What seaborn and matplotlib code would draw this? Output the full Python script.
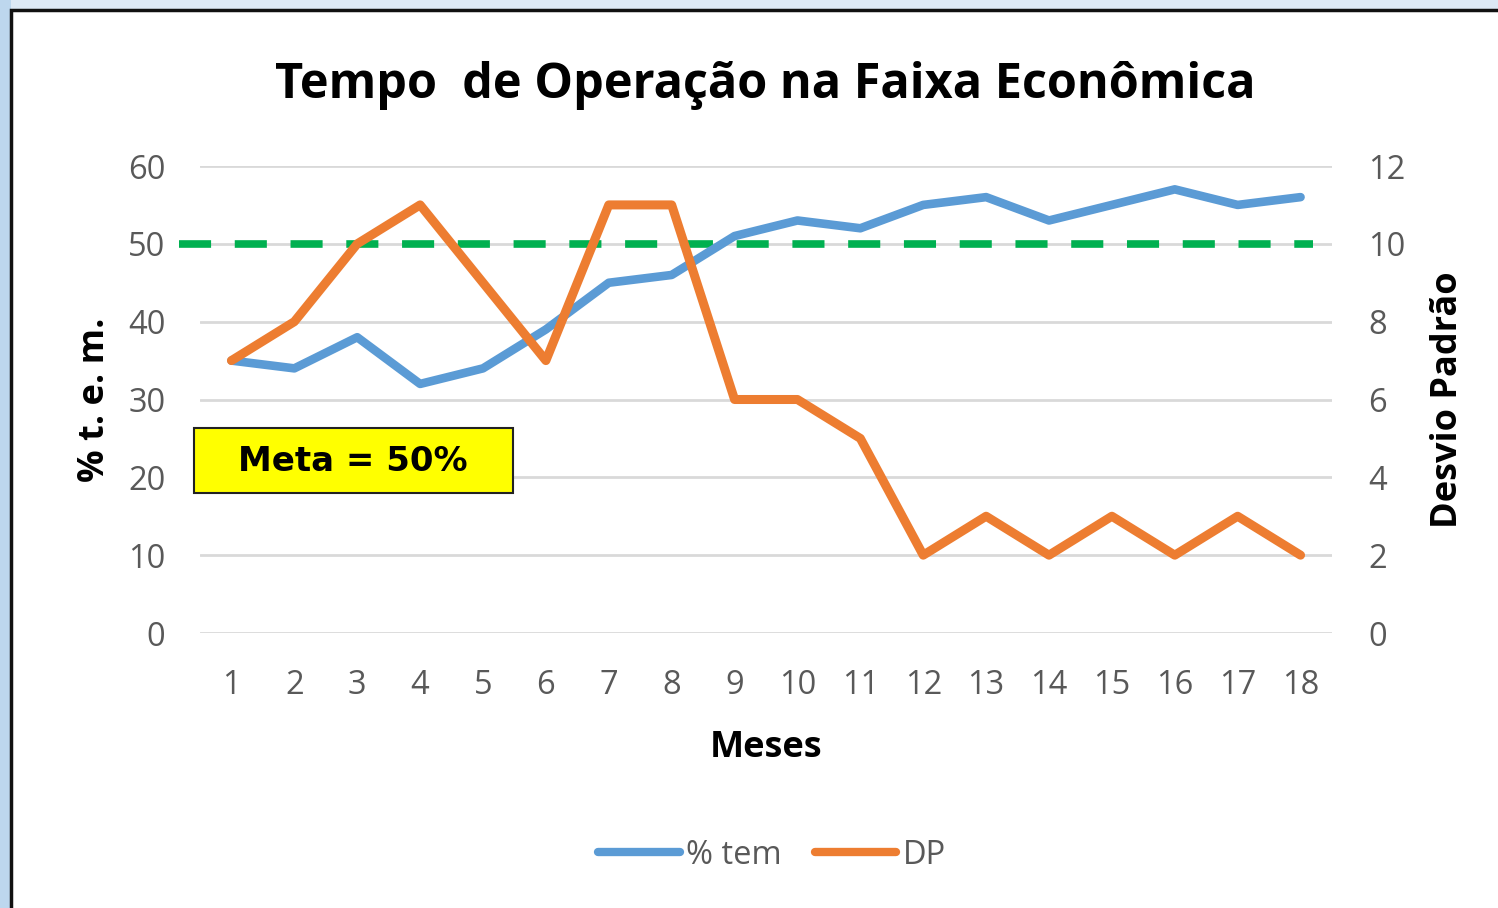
import numpy as np
import pandas as pd
import seaborn as sns
import matplotlib
matplotlib.use("Agg")
import matplotlib.pyplot as plt
from matplotlib.patches import Rectangle
from matplotlib.lines import Line2D

# ---- data ----
meses = list(range(1, 19))
pct_tem = [35, 34, 38, 32, 34, 39, 45, 46, 51, 53, 52, 55, 56, 53, 55, 57, 55, 56]
dp = [7, 8, 10, 11, 9, 7, 11, 11, 6, 6, 5, 2, 3, 2, 3, 2, 3, 2]
meta = 50
left_ticks = [0, 10, 20, 30, 40, 50, 60]
right_ticks = [0, 2, 4, 6, 8, 10, 12]

df = pd.DataFrame({"Meses": meses, "% tem": pct_tem, "DP": dp})

sns.set_theme(style="white")
plt.rcParams['font.family'] = ['Open Sans', 'DejaVu Sans']

W, H = 1498, 908
fig = plt.figure(figsize=(W / 100, H / 100), dpi=100)
fig.patch.set_facecolor('#dde9f5')

# left strip slightly darker blue
fig.patches.append(Rectangle((0, 0), 11 / W, 1, transform=fig.transFigure,
                             facecolor='#bdd7ee', edgecolor='none', zorder=0))
# white chart panel with black border
fig.patches.append(Rectangle((11 / W, -0.05), 1.1, (H - 10) / H + 0.05,
                             transform=fig.transFigure, facecolor='white',
                             edgecolor='#111111', linewidth=2.5, zorder=1))

ax = fig.add_axes([200 / W, 1 - 633 / H, 1132 / W, 467 / H])
ax.set_facecolor('none')
ax.set_zorder(3)
ax2 = ax.twinx()

blue = '#5b9bd5'
orange = '#ed7d31'
green = '#00b050'
gray = '#595959'

sns.lineplot(data=df, x="Meses", y="% tem", ax=ax, color=blue, linewidth=6.2,
             solid_capstyle='round', solid_joinstyle='round', zorder=4)
sns.lineplot(data=df, x="Meses", y="DP", ax=ax2, color=orange, linewidth=6.5,
             solid_capstyle='round', solid_joinstyle='round', zorder=5)

ax.axhline(meta, xmin=-0.0186, xmax=0.983, color=green, linewidth=5.5,
           linestyle=(0, (4.2, 3.1)), dash_capstyle='butt', clip_on=False, zorder=3)

for a, lim, ticks in ((ax, (0, 60), left_ticks), (ax2, (0, 12), right_ticks)):
    a.set_ylim(*lim)
    a.set_yticks(ticks)
    a.set_xlim(0.5, 18.5)
    for s in a.spines.values():
        s.set_visible(False)
    a.tick_params(axis='both', length=0, labelsize=23.5, labelcolor=gray)

ax.yaxis.grid(True, color='#d9d9d9', linewidth=2)
ax.set_axisbelow(True)
ax.set_xticks(meses)
ax.set_xticklabels([str(m) for m in meses])
ax.tick_params(axis='x', pad=26)
ax.tick_params(axis='y', pad=25)
ax2.tick_params(axis='y', pad=26)

ax.set_xlabel("Meses", fontsize=26, fontweight='bold', color='black', labelpad=20)
ax.set_ylabel("% t. e. m.", fontsize=26, fontweight='bold', color='black', labelpad=11)
ax2.set_ylabel("Desvio Padrão", fontsize=26, fontweight='bold', color='black', labelpad=18)

fig.text(765 / W, 1 - 86 / H, "Tempo  de Operação na Faixa Econômica",
         ha='center', va='center', fontsize=35, fontweight='bold', color='black')

# Meta box
fig.patches.append(Rectangle((194 / W, 1 - 493 / H), 319 / W, 65 / H,
                             transform=fig.transFigure, facecolor='#ffff00',
                             edgecolor='#222222', linewidth=1.5, zorder=6))
fig.text(353 / W, 1 - 462 / H, f"Meta = {meta}%", ha='center', va='center',
         fontsize=24.5, fontweight='bold', color='black', zorder=7,
         family=['DejaVu Sans'])

handles = [Line2D([0], [0], color=blue, linewidth=6, solid_capstyle='round'),
           Line2D([0], [0], color=orange, linewidth=6, solid_capstyle='round')]
fig.legend(handles, ["% tem", "DP"], loc='center', bbox_to_anchor=(772 / W, 1 - 855 / H),
           ncol=2, frameon=False, fontsize=23.5, labelcolor=gray, handlelength=2.5,
           handletextpad=0.2, columnspacing=1.0)

fig.savefig("out.png", dpi=100, facecolor=fig.get_facecolor())
